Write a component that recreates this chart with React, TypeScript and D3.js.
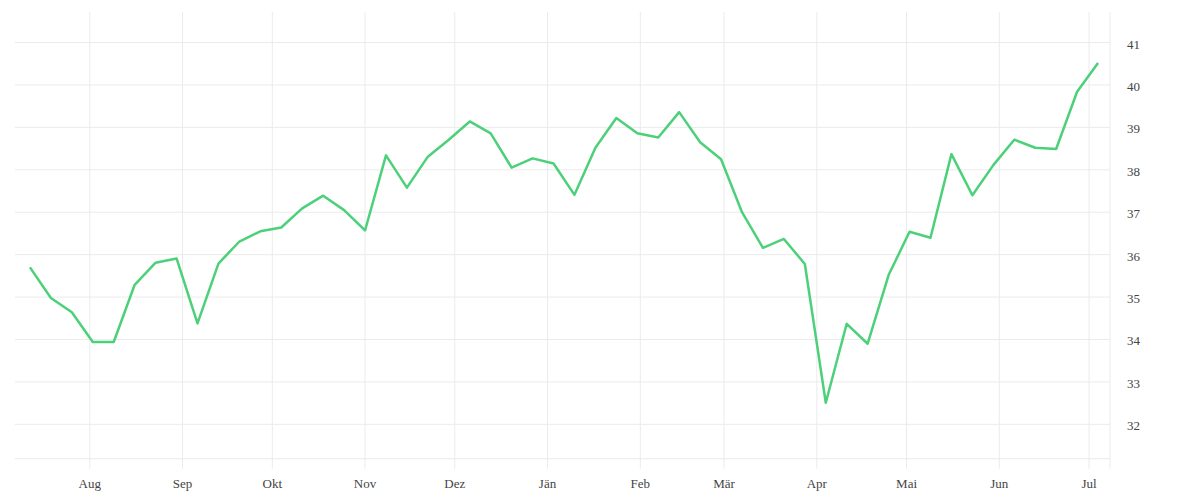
import * as d3 from 'd3';

// weekly closing values (Mondays)
const weekDates = [
  '2021-07-12', '2021-07-19', '2021-07-26', '2021-08-02', '2021-08-09', '2021-08-16',
  '2021-08-23', '2021-08-30', '2021-09-06', '2021-09-13', '2021-09-20', '2021-09-27',
  '2021-10-04', '2021-10-11', '2021-10-18', '2021-10-25', '2021-11-01', '2021-11-08',
  '2021-11-15', '2021-11-22', '2021-11-29', '2021-12-06', '2021-12-13', '2021-12-20',
  '2021-12-27', '2022-01-03', '2022-01-10', '2022-01-17', '2022-01-24', '2022-01-31',
  '2022-02-07', '2022-02-14', '2022-02-21', '2022-02-28', '2022-03-07', '2022-03-14',
  '2022-03-21', '2022-03-28', '2022-04-04', '2022-04-11', '2022-04-18', '2022-04-25',
  '2022-05-02', '2022-05-09', '2022-05-16', '2022-05-23', '2022-05-30', '2022-06-06',
  '2022-06-13', '2022-06-20', '2022-06-27', '2022-07-04',
];

const weekValues = [
  35.70, 34.98, 34.64, 33.94, 33.94, 35.29, 35.81, 35.91, 34.38, 35.79,
  36.31, 36.55, 36.64, 37.09, 37.39, 37.05, 36.57, 38.34, 37.58, 38.31,
  38.71, 39.14, 38.86, 38.05, 38.27, 38.15, 37.41, 38.52, 39.22, 38.86,
  38.76, 39.36, 38.65, 38.25, 37.00, 36.16, 36.37, 35.78, 32.51, 34.37,
  33.90, 35.52, 36.54, 36.40, 38.37, 37.40, 38.11, 38.71, 38.52, 38.49,
  39.84, 40.52,
];

const monthTicks = [
  '2021-08-01', '2021-09-01', '2021-10-01', '2021-11-01', '2021-12-01', '2022-01-01',
  '2022-02-01', '2022-03-01', '2022-04-01', '2022-05-01', '2022-06-01', '2022-07-01',
];
const monthLabels = ['Aug', 'Sep', 'Okt', 'Nov', 'Dez', 'Jän', 'Feb', 'Mär', 'Apr', 'Mai', 'Jun', 'Jul'];

const yTicks = [32, 33, 34, 35, 36, 37, 38, 39, 40, 41];

const parse = d3.utcParse('%Y-%m-%d');

export default function App() {
  const width = 1200;
  const height = 500;
  const left = 15;
  const right = 1110;
  const top = 12;
  const bottom = 458.7;

  const x = d3.scaleUtc()
    .domain([parse('2021-07-07')!, parse('2022-07-08')!])
    .range([left, right]);

  const y = d3.scaleLinear()
    .domain([31.19, 41.72])
    .range([bottom, top]);

  const points = weekDates.map((d, i) => ({ date: parse(d)!, value: weekValues[i] }));

  const line = d3.line<{ date: Date; value: number }>()
    .x(d => x(d.date))
    .y(d => y(d.value));

  const gridColor = '#ebebeb';
  const textColor = '#444';
  const font = '"Liberation Serif", serif';

  return (
    <svg
      width={width}
      height={height}
      style={{ position: 'absolute', left: 0, top: 0, background: '#fff' }}
    >
      {/* horizontal grid */}
      {yTicks.map(t => (
        <line key={t} x1={left} x2={right} y1={y(t)} y2={y(t)} stroke={gridColor} strokeWidth={1} />
      ))}
      <line x1={left} x2={right} y1={bottom} y2={bottom} stroke={gridColor} strokeWidth={1} />

      {/* vertical grid at month starts */}
      {monthTicks.map(m => (
        <line key={m} x1={x(parse(m)!)} x2={x(parse(m)!)} y1={top} y2={bottom + 10} stroke={gridColor} strokeWidth={1} />
      ))}
      <line x1={right} x2={right} y1={top} y2={bottom + 10} stroke={gridColor} strokeWidth={1} />

      {/* x labels */}
      {monthTicks.map((m, i) => (
        <text
          key={m}
          x={x(parse(m)!)}
          y={488}
          textAnchor="middle"
          fontFamily={font}
          fontSize={13}
          fill={textColor}
        >
          {monthLabels[i]}
        </text>
      ))}

      {/* y labels */}
      {yTicks.map(t => (
        <text
          key={t}
          x={1127}
          y={y(t) + 6}
          fontFamily={font}
          fontSize={13}
          fill={textColor}
        >
          {t}
        </text>
      ))}

      <path
        d={line(points) ?? ''}
        fill="none"
        stroke="#4cd07a"
        strokeWidth={2.5}
        strokeLinejoin="round"
      />
    </svg>
  );
}
